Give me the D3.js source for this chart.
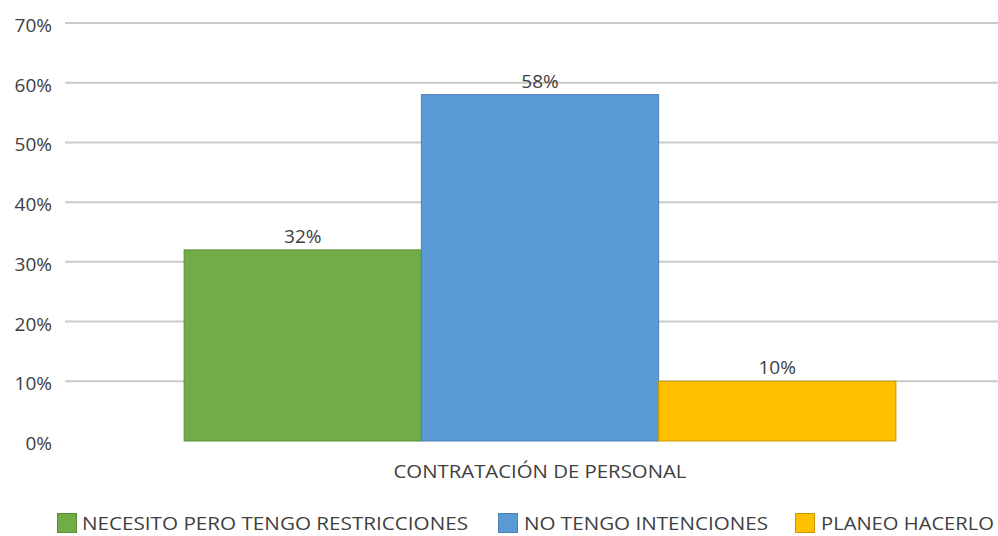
<!DOCTYPE html>
<html>
<head>
<meta charset="utf-8">
<script src="https://cdn.jsdelivr.net/npm/d3@7"></script>
<style>
  body { margin: 0; background: #fff; }
  text { font-family: "Open Sans", sans-serif; fill: #404040; }
</style>
</head>
<body>
<div id="chart"></div>
<script>
const category = 'CONTRATACIÓN DE PERSONAL'
const seriesNames = ['NECESITO PERO TENGO RESTRICCIONES', 'NO TENGO INTENCIONES', 'PLANEO HACERLO']
const seriesValues = [0.32, 0.58, 0.10]
const seriesColors = ['#70ad47', '#5b9bd5', '#ffc000']
const seriesStrokes = ['#5a8c38', '#4a80b2', '#c89600']
const yTicks = [0, 0.1, 0.2, 0.3, 0.4, 0.5, 0.6, 0.7]

const width = 998, height = 536

const svg = d3.select('#chart').append('svg')
  .attr('width', width)
  .attr('height', height)

const y = d3.scaleLinear().domain([0, 0.7]).range([441, 23])
const x0 = d3.scaleBand().domain([category]).range([66, 1014]).paddingInner(0).paddingOuter(0.166)
const x1 = d3.scaleBand().domain(seriesNames).range([0, x0.bandwidth()])

// gridlines
svg.append('g')
  .selectAll('line')
  .data(yTicks.slice(1))
  .join('line')
  .attr('x1', 65)
  .attr('x2', width)
  .attr('y1', d => y(d))
  .attr('y2', d => y(d))
  .attr('stroke', '#cbcbcb')
  .attr('stroke-width', 2)

// y labels
svg.append('g')
  .selectAll('text')
  .data(yTicks)
  .join('text')
  .attr('x', 52)
  .attr('y', d => y(d) + 9)
  .attr('text-anchor', 'end')
  .attr('font-size', 19)
  .text(d => d3.format('.0%')(d))

// bars
const bars = svg.append('g')
  .attr('transform', 'translate(' + x0(category) + ',0)')

bars.selectAll('rect')
  .data(seriesValues)
  .join('rect')
  .attr('x', (d, i) => x1(seriesNames[i]))
  .attr('y', d => y(d))
  .attr('width', x1.bandwidth())
  .attr('height', d => y(0) - y(d))
  .attr('fill', (d, i) => seriesColors[i])
  .attr('stroke', (d, i) => seriesStrokes[i])
  .attr('stroke-width', 1)

bars.selectAll('text')
  .data(seriesValues)
  .join('text')
  .attr('x', (d, i) => x1(seriesNames[i]) + x1.bandwidth() / 2)
  .attr('y', d => y(d) - 7)
  .attr('text-anchor', 'middle')
  .attr('font-size', 19)
  .text(d => d3.format('.0%')(d))

// category label
svg.append('text')
  .attr('x', x0(category) + x0.bandwidth() / 2)
  .attr('y', 478)
  .attr('text-anchor', 'middle')
  .attr('font-size', 19)
  .attr('textLength', 293)
  .attr('lengthAdjust', 'spacingAndGlyphs')
  .text(category)

// legend
const legendX = [57, 498, 795]
const legendTextLen = [386, 244, 173]
const legend = svg.append('g')
  .selectAll('g')
  .data(seriesNames)
  .join('g')
  .attr('transform', (d, i) => 'translate(' + legendX[i] + ',513)')

legend.append('rect')
  .attr('x', 0.5)
  .attr('y', 0.5)
  .attr('width', 19)
  .attr('height', 19)
  .attr('fill', (d, i) => seriesColors[i])
  .attr('stroke', (d, i) => seriesStrokes[i])

legend.append('text')
  .attr('x', (d, i) => i === 0 ? 25 : 26)
  .attr('y', 17)
  .attr('font-size', 18)
  .attr('textLength', (d, i) => legendTextLen[i])
  .attr('lengthAdjust', 'spacingAndGlyphs')
  .text(d => d)
</script>
</body>
</html>
